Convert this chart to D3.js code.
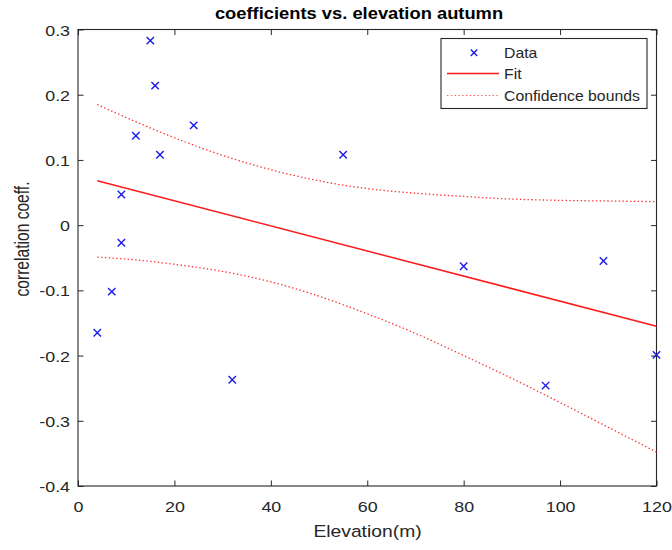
<!DOCTYPE html>
<html><head><meta charset="utf-8">
<script src="https://cdn.jsdelivr.net/npm/d3@7"></script>
<style>body{margin:0;background:#fff;overflow:hidden}</style>
</head><body><svg id="c" width="672" height="550"></svg>
<script>
// ---- data ----
const elevation = [4, 7, 9, 9, 12, 15, 16, 17, 24, 32, 55, 80, 97, 109, 120];
const coeff = [-0.165, -0.102, -0.027, 0.047, 0.137, 0.283, 0.214, 0.108, 0.153, -0.237, 0.108, -0.063, -0.246, -0.055, -0.199];
const fitX = [4, 120];
const fitY = [0.068, -0.155];
const boundX = [4, 10, 20, 30, 40, 50, 60, 70, 80, 90, 100, 110, 120];
const upperY = [0.185, 0.165, 0.134, 0.107, 0.085, 0.068, 0.056, 0.049, 0.044, 0.040, 0.038, 0.037, 0.036];
const lowerY = [-0.049, -0.052, -0.060, -0.071, -0.087, -0.109, -0.136, -0.166, -0.200, -0.235, -0.272, -0.310, -0.348];
const xTicks = [0, 20, 40, 60, 80, 100, 120];
const xTickLabels = ["0", "20", "40", "60", "80", "100", "120"];
const yTicks = [-0.4, -0.3, -0.2, -0.1, 0, 0.1, 0.2, 0.3];
const yTickLabels = ["-0.4", "-0.3", "-0.2", "-0.1", "0", "0.1", "0.2", "0.3"];
const legendLabels = ["Data", "Fit", "Confidence bounds"];
const titleText = "coefficients vs. elevation autumn";
const xLabelText = "Elevation(m)";
const yLabelText = "correlation coeff.";

// ---- layout ----
const FONT = "'Liberation Sans', Arial, Helvetica, sans-serif";
const AX = "#262626";
const BLUE = "#1a1ae6";
const RED = "#ff1a1a";
const SX = 1.16; // horizontal stretch of text seen in reference
const L = 78, R = 656.5, T = 29.5, B = 486;

const svg = d3.select("#c");
const x = d3.scaleLinear().domain([0, 120]).range([L, R]);
const y = d3.scaleLinear().domain([-0.4, 0.3]).range([B, T]);

// axes (inward ticks, MATLAB box style)
const TS = -5.5;
const gB = svg.append("g").attr("transform", `translate(0,${B})`)
  .call(d3.axisBottom(x).tickValues(xTicks).tickFormat((d, i) => xTickLabels[i]).tickSizeInner(TS).tickSizeOuter(0).tickPadding(15));
const gT = svg.append("g").attr("transform", `translate(0,${T})`)
  .call(d3.axisTop(x).tickValues(xTicks).tickFormat("").tickSizeInner(TS).tickSizeOuter(0));
const gL = svg.append("g").attr("transform", `translate(${L},0)`)
  .call(d3.axisLeft(y).tickValues(yTicks).tickFormat((d, i) => yTickLabels[i]).tickSizeInner(TS).tickSizeOuter(0).tickPadding(8));
const gR = svg.append("g").attr("transform", `translate(${R},0)`)
  .call(d3.axisRight(y).tickValues(yTicks).tickFormat("").tickSizeInner(TS).tickSizeOuter(0));
[gB, gT, gL, gR].forEach(g => {
  g.select(".domain").remove();
  g.selectAll(".tick line").attr("stroke", AX).attr("stroke-width", 1);
  g.selectAll("text").attr("fill", AX).style("font-family", FONT).style("font-size", "15.4px");
});
gB.selectAll("text").attr("transform", `scale(${SX},1)`);
gL.selectAll("text").attr("x", -8 / SX).attr("dy", "0.36em").attr("transform", `scale(${SX},1)`);

// box
svg.append("rect").attr("x", L).attr("y", T).attr("width", R - L).attr("height", B - T)
  .attr("fill", "none").attr("stroke", AX).attr("stroke-width", 1.1);

// confidence bounds
const bLine = d3.line().x(d => x(d[0])).y(d => y(d[1])).curve(d3.curveMonotoneX);
[upperY, lowerY].forEach(arr => {
  svg.append("path").datum(boundX.map((v, i) => [v, arr[i]]))
    .attr("d", bLine).attr("fill", "none").attr("stroke", RED)
    .attr("stroke-width", 1.3).attr("stroke-dasharray", "1.4,2.4").attr("opacity", 0.9);
});
// fit
svg.append("path").datum(fitX.map((v, i) => [v, fitY[i]]))
  .attr("d", d3.line().x(d => x(d[0])).y(d => y(d[1])))
  .attr("fill", "none").attr("stroke", RED).attr("stroke-width", 1.5);

// data markers
const M = 3.7;
const cross = (px, py, m) => `M${px - m},${py - m}L${px + m},${py + m}M${px - m},${py + m}L${px + m},${py - m}`;
svg.append("g").selectAll("path").data(elevation.map((v, i) => [v, coeff[i]])).join("path")
  .attr("d", d => cross(x(d[0]), y(d[1]), M))
  .attr("stroke", BLUE).attr("stroke-width", 1.4).attr("fill", "none");

// legend
const lg = svg.append("g");
lg.append("rect").attr("x", 441).attr("y", 38.5).attr("width", 206).attr("height", 70)
  .attr("fill", "#fff").attr("stroke", AX).attr("stroke-width", 1.1);
const rowsY = [52.7, 73.5, 95.5];
lg.append("path").attr("d", cross(474, rowsY[0], 3.2)).attr("stroke", BLUE).attr("stroke-width", 1.4);
lg.append("line").attr("x1", 447).attr("x2", 499).attr("y1", rowsY[1]).attr("y2", rowsY[1])
  .attr("stroke", RED).attr("stroke-width", 1.5);
lg.append("line").attr("x1", 447).attr("x2", 499).attr("y1", rowsY[2]).attr("y2", rowsY[2])
  .attr("stroke", RED).attr("stroke-width", 1.2).attr("stroke-dasharray", "1.4,2.4").attr("opacity", 0.7);
legendLabels.forEach((t, i) => {
  lg.append("text").text(t).attr("transform", `translate(504,${rowsY[i]}) scale(1.08,1)`)
    .attr("dy", "0.36em").attr("fill", AX).style("font-family", FONT).style("font-size", "14.6px");
});

// title & labels
svg.append("text").text(titleText).attr("transform", `translate(359,19) scale(${SX},1)`)
  .attr("text-anchor", "middle").attr("fill", "#000").style("font-family", FONT)
  .style("font-weight", "bold").style("font-size", "15.8px");
svg.append("text").text(xLabelText).attr("transform", `translate(367.5,537) scale(1.17,1)`)
  .attr("text-anchor", "middle").attr("fill", AX).style("font-family", FONT).style("font-size", "16.5px");
svg.append("text").text(yLabelText).attr("transform", `translate(29,239) scale(1.25,1) rotate(-90)`)
  .attr("text-anchor", "middle").attr("fill", AX).style("font-family", FONT).style("font-size", "15.6px");
</script></body></html>
